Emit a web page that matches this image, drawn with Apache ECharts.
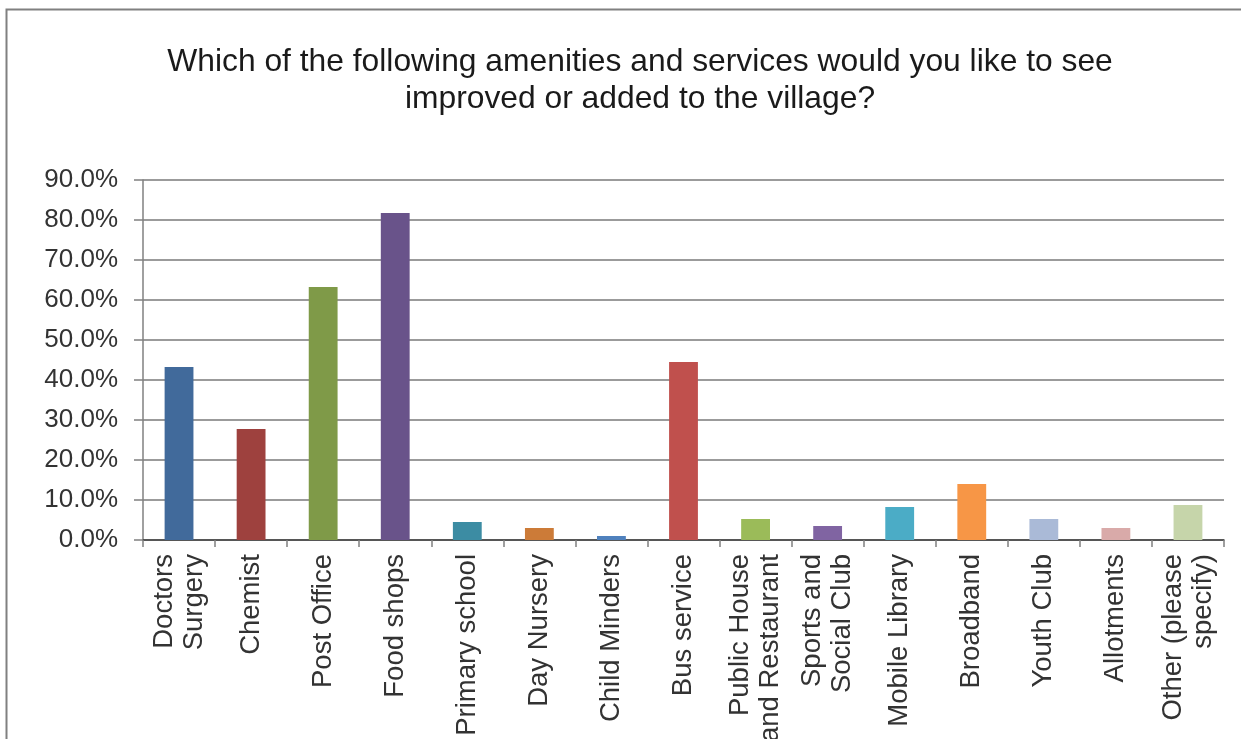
<!DOCTYPE html>
<html>
<head>
<meta charset="utf-8">
<script src="https://cdn.jsdelivr.net/npm/echarts@6/dist/echarts.min.js"></script>
<style>
html,body{margin:0;padding:0;background:#fff;}
#chart{width:1241px;height:739px;}
</style>
</head>
<body>
<div id="chart"></div>
<script>
const categories = ["Doctors\nSurgery","Chemist","Post Office","Food shops","Primary school","Day Nursery","Child Minders","Bus service","Public House\nand Restaurant","Sports and\nSocial Club","Mobile Library","Broadband","Youth Club","Allotments","Other (please\nspecify)"];
const values = [43.25, 27.75, 63.25, 81.75, 4.5, 3.0, 1.0, 44.5, 5.25, 3.5, 8.25, 14.0, 5.25, 3.0, 8.75];
const barColors = ["#416A9B","#9E413E","#7F9A48","#69538A","#3C8CA3","#CC7B38","#4F81BD","#C0504D","#9BBB59","#8064A2","#4BACC6","#F79646","#AABAD7","#D9AAA9","#C6D5AA"];
const yTicks = {min:0, max:90, interval:10};
const titleText = "Which of the following amenities and services would you like to see\nimproved or added to the village?";

const chart = echarts.init(document.getElementById('chart'), null, {renderer:'canvas'});
chart.setOption({
  backgroundColor:'#fff',
  animation:false,
  title:{
    text:titleText,
    left:635,
    textAlign:'center',
    top:39,
    textStyle:{fontFamily:'Liberation Sans, Arial, sans-serif',fontSize:31.8,fontWeight:'normal',color:'#1a1a1a',lineHeight:37}
  },
  graphic:[{
    type:'polyline',
    shape:{points:[[6.5,739],[6.5,9.5],[1241,9.5]]},
    style:{stroke:'#808080',lineWidth:2,fill:null},
    silent:true
  }],
  grid:{left:143,right:17,top:180,bottom:199,containLabel:false,outerBoundsMode:'none'},
  xAxis:{
    type:'category',
    data:categories,
    axisLine:{lineStyle:{color:'#404040',width:1.5}},
    axisTick:{show:true,length:7,inside:false,alignWithLabel:false,lineStyle:{color:'#808080',width:1.5}},
    axisLabel:{rotate:90,interval:0,margin:14,fontFamily:'Liberation Sans, Arial, sans-serif',fontSize:27.5,color:'#333',lineHeight:30}
  },
  yAxis:{
    type:'value',
    min:yTicks.min,max:yTicks.max,interval:yTicks.interval,
    axisLine:{show:true,lineStyle:{color:'#808080',width:1.5}},
    axisTick:{show:true,length:9,lineStyle:{color:'#808080',width:1.5}},
    splitLine:{lineStyle:{color:'#7a7a7a',width:1.5}},
    axisLabel:{margin:25,formatter:v=>v.toFixed(1)+'%',fontFamily:'Liberation Sans, Arial, sans-serif',fontSize:26,color:'#333'}
  },
  series:[{
    type:'bar',
    barWidth:'40%',
    data:values.map((v,i)=>({value:v,itemStyle:{color:barColors[i]}}))
  }]
});
</script>
</body>
</html>
